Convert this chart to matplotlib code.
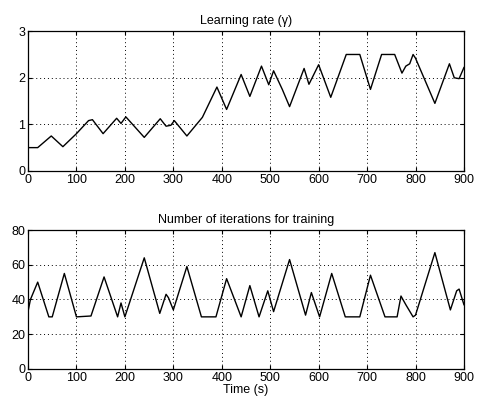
import matplotlib
matplotlib.use("Agg")
import matplotlib.pyplot as plt

# Learning rate (gamma) trace
lr_t = [0, 20, 48, 72, 100, 125, 133, 155, 183, 192, 202, 240, 273, 285, 295, 302, 328,
        360, 390, 410, 440, 458, 482, 497, 507, 525, 540, 570, 580, 600, 625, 657, 685,
        707, 730, 757, 772, 780, 788, 795, 800, 840, 870, 880, 890, 900]
lr_v = [0.5, 0.5, 0.75, 0.52, 0.8, 1.08, 1.1, 0.8, 1.13, 1.02, 1.16, 0.72, 1.12, 0.96, 0.98, 1.08, 0.75,
        1.15, 1.8, 1.32, 2.07, 1.6, 2.25, 1.85, 2.15, 1.75, 1.38, 2.2, 1.86, 2.28, 1.58, 2.5, 2.5,
        1.75, 2.5, 2.5, 2.1, 2.25, 2.3, 2.5, 2.42, 1.45, 2.3, 2.0, 1.98, 2.22]

# Number of iterations for training
it_t = [0, 5, 20, 43, 50, 75, 100, 130, 157, 185, 192, 200, 240, 272, 285, 290, 300, 328,
        358, 388, 410, 440, 458, 477, 495, 507, 540, 573, 585, 602, 627, 655, 685, 707,
        737, 762, 770, 780, 795, 800, 840, 872, 885, 890, 900]
it_v = [33, 40, 50, 30, 30, 55, 30, 30.5, 53, 30, 38, 30, 64, 32, 43, 41, 34, 59,
        30, 30, 52, 30, 48, 30, 45, 33, 63, 31, 44, 30, 55, 30, 30, 54,
        30, 30, 42, 37, 30, 31, 67, 34, 45, 46, 37]

x_ticks = [0, 100, 200, 300, 400, 500, 600, 700, 800, 900]
lr_yticks = [0, 1, 2, 3]
it_yticks = [0, 20, 40, 60, 80]

plt.rcParams['font.family'] = ['Liberation Sans', 'DejaVu Sans']
plt.rcParams['font.size'] = 9

fig = plt.figure(figsize=(4.78, 4.05), dpi=100)
ax1 = fig.add_axes([0.0586, 0.578, 0.912, 0.345])
ax2 = fig.add_axes([0.0586, 0.089, 0.912, 0.343])

for ax in (ax1, ax2):
    ax.set_xlim(0, 900)
    ax.set_xticks(x_ticks)
    ax.tick_params(direction='in', length=3, width=0.8, top=True, right=True, labelsize=9, pad=2)
    ax.grid(True, color='black', linestyle=(0, (1, 3)), linewidth=0.7)
    for s in ax.spines.values():
        s.set_linewidth(0.9)

ax1.plot(lr_t, lr_v, color='black', linewidth=1.0)
ax1.set_ylim(0, 3)
ax1.set_yticks(lr_yticks)
ax1.set_title('Learning rate (γ)', fontsize=9, pad=5)

ax2.plot(it_t, it_v, color='black', linewidth=1.0)
ax2.set_ylim(0, 80)
ax2.set_yticks(it_yticks)
ax2.set_title('Number of iterations for training', fontsize=9, pad=5)
ax2.set_xlabel('Time (s)', fontsize=9, labelpad=0)

fig.savefig('out.png', dpi=100)
